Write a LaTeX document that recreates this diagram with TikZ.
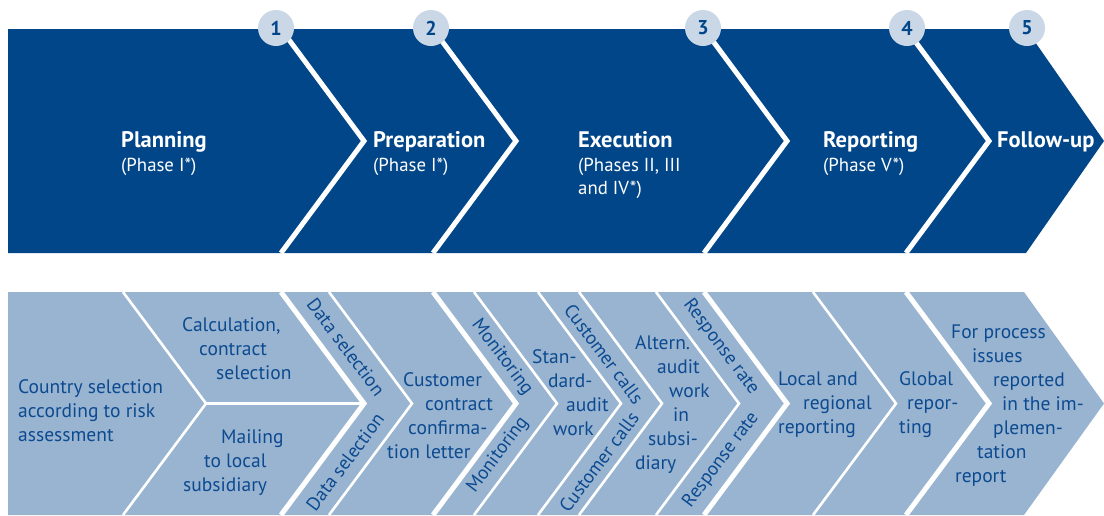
\documentclass[tikz,border=0pt]{standalone}
\usepackage{fontspec}
\setmainfont{PT Sans}
\definecolor{darkband}{RGB}{2,70,138}
\definecolor{lightband}{RGB}{153,180,209}
\definecolor{circfill}{RGB}{201,215,230}
\definecolor{txtblue}{RGB}{12,74,144}
\tikzset{
  thickwhite/.style={draw=white, line width=5pt},
  thinwhite/.style={draw=white, line width=2.6pt},
  btext/.style={text=txtblue, font=\fontsize{19.5}{24}\selectfont, align=left, anchor=north west, inner sep=0pt},
  rtext/.style={text=txtblue, font=\fontsize{19}{22}\selectfont, inner sep=0pt},
  phasetitle/.style={text=white, font=\bfseries\fontsize{22.5}{24}\selectfont, anchor=base west, inner sep=0pt},
  phasesub/.style={text=white, font=\fontsize{18.8}{23.5}\selectfont, anchor=base west, inner sep=0pt},
  numcircle/.style={circle, fill=circfill, minimum size=36pt, inner sep=0pt, text=darkband, font=\bfseries\fontsize{20}{20}\selectfont}
}
\begin{document}
\begin{tikzpicture}[x=1pt,y=-1pt]
\useasboundingbox (0,0) rectangle (1104,515);
% top band
\fill[darkband] (8,29) -- (1026,29) -- (1104,141) -- (1026,253) -- (8,253) -- cycle;
\foreach \t in {281,433,704,906}{
  \draw[thickwhite] (\t,29) -- (\t+83,141) -- (\t,253);
}
\node[numcircle] (c1) at (276,28) {1};
\node[numcircle] (c2) at (431,28) {2};
\node[numcircle] (c3) at (703,28) {3};
\node[numcircle] (c4) at (907,28) {4};
\node[numcircle] (c5) at (1027,28) {5};
\node[phasetitle] (t1) at (121,147) {Planning};
\node[phasesub] (s1) at (121,171) {(Phase I*)};
\node[phasetitle] (t2) at (373,147) {Preparation};
\node[phasesub] (s2) at (373,171) {(Phase I*)};
\node[phasetitle] (t3) at (578,147) {Execution};
\node[phasesub] (s3a) at (578,171) {(Phases II, III};
\node[phasesub] (s3b) at (578,194.5) {and IV*)};
\node[phasetitle] (t4) at (823,147) {Reporting};
\node[phasesub] (s4) at (823,171) {(Phase V*)};
\node[phasetitle] (t5) at (997,147) {Follow-up};
% bottom band
\fill[lightband] (8,292) -- (1024,292) -- (1104,403.5) -- (1024,515) -- (8,515) -- cycle;
\foreach \t in {123,329,474,538,579,656,813}{
  \draw[thinwhite] (\t,292) -- (\t+83,403.5) -- (\t,515);
}
\foreach \t in {281,433,704,906}{
  \draw[thickwhite] (\t,292) -- (\t+83,403.5) -- (\t,515);
}
\draw[thinwhite] (206,403.5) -- (364,403.5);
% rotated strip labels
\node[rtext, rotate=-53.2] (ds1) at (346,347) {Data selection};
\node[rtext, rotate=53.2] (ds2) at (345,462) {Data selection};
\node[rtext, rotate=-53.2] (mo1) at (502,357) {Monitoring};
\node[rtext, rotate=53.2] (mo2) at (498,455) {Monitoring};
\node[rtext, rotate=-53.2] (cc1) at (604,354) {Customer calls};
\node[rtext, rotate=53.2] (cc2) at (599,462) {Customer calls};
\node[rtext, rotate=-53.2] (rr1) at (721,347) {Response rate};
\node[rtext, rotate=53.2] (rr2) at (721,460) {Response rate};
% bottom text blocks
\node[btext] (b1) at (18,376.2) {\strut Country selection\\according to risk\\assessment};
\node[btext] (b2) at (182,314.2) {\strut Calculation,\\\hspace*{17pt}contract\\\hspace*{34pt}selection};
\node[btext] (b3) at (183,426.2) {\strut\hspace*{38pt}Mailing\\\hspace*{21pt}to local\\subsidiary};
\node[btext] (b4) at (387,369.2) {\strut\hspace*{16pt}Customer\\\hspace*{38pt}contract\\\hspace*{21pt}confirma-\\tion letter};
\node[btext] (b5) at (532,346.2) {\strut Stan-\\\hspace*{16pt}dard-\\\hspace*{34pt}audit\\\hspace*{21pt}work};
\node[btext] (b6) at (635,332.2) {\strut Altern.\\\hspace*{22pt}audit\\\hspace*{34pt}work\\\hspace*{38pt}in\\\hspace*{13pt}subsi-\\diary};
\node[btext] (b7) at (778,368.2) {\strut Local and\\\hspace*{25pt}regional\\reporting};
\node[btext] (b8) at (899,368.2) {\strut Global\\\hspace*{8pt}repor-\\ting};
\node[btext] (b9) at (951,321.2) {\strut For process\\\hspace*{21pt}issues\\\hspace*{42pt}reported\\\hspace*{51pt}in the im-\\\hspace*{42pt}plemen-\\\hspace*{26pt}tation\\\hspace*{4pt}report};
\end{tikzpicture}
\end{document}
